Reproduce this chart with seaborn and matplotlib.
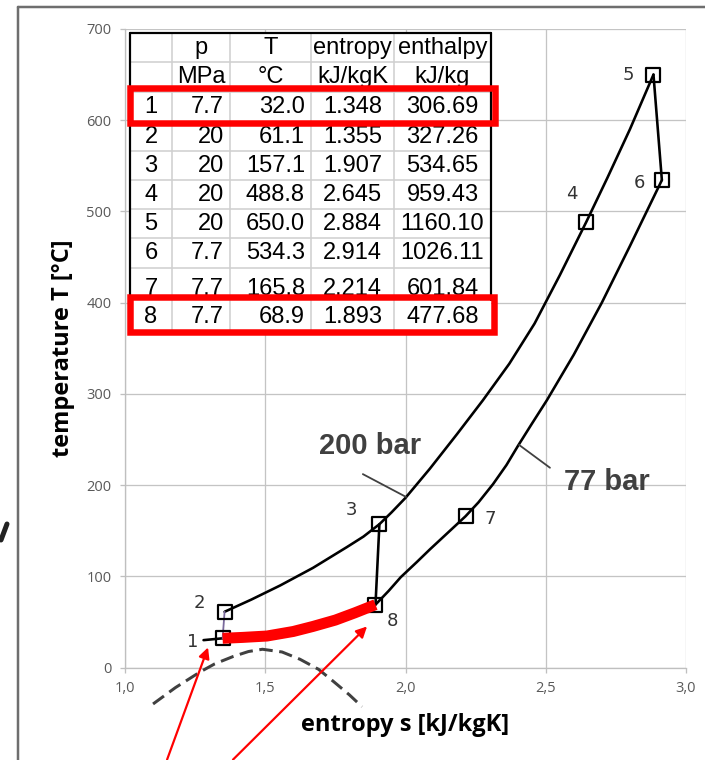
import matplotlib
matplotlib.use("Agg")
import matplotlib.pyplot as plt
import matplotlib.transforms as mtransforms
from matplotlib.patches import Rectangle
from matplotlib.lines import Line2D
from matplotlib.ticker import FuncFormatter, MultipleLocator
import pandas as pd
import seaborn as sns

# ---- cycle state points ----
state_no = [1, 2, 3, 4, 5, 6, 7, 8]
p_mpa = ["7.7", "20", "20", "20", "20", "7.7", "7.7", "7.7"]
t_c = [32.0, 61.1, 157.1, 488.8, 650.0, 534.3, 165.8, 68.9]
s_kj = [1.348, 1.355, 1.907, 2.645, 2.884, 2.914, 2.214, 1.893]
h_kj = [306.69, 327.26, 534.65, 959.43, 1160.10, 1026.11, 601.84, 477.68]

# ---- 200 bar isobar (2 -> 3 -> 4 -> 5) ----
hp_s = [1.355, 1.45, 1.553, 1.670, 1.791, 1.85, 1.907, 1.95, 2.0, 2.087, 2.184,
        2.276, 2.37, 2.46, 2.55, 2.645, 2.72, 2.80, 2.884]
hp_t = [61.1, 74.4, 89.9, 109.2, 132.0, 143.5, 157.1, 170, 186, 218, 256,
        293, 333, 377, 430, 488.8, 537, 590, 650.0]

# ---- 77 bar isobar (8 -> 7 -> 6) ----
lp_s = [1.893, 1.94, 1.983, 2.04, 2.087, 2.15, 2.214, 2.26, 2.312, 2.36, 2.401,
        2.45, 2.504, 2.6, 2.7, 2.8, 2.914]
lp_t = [68.9, 84, 99, 115.5, 129.5, 147.5, 165.8, 181, 201, 222, 243,
        267, 293, 343, 400, 462, 534.3]

# ---- heat rejection 1 -> 8 (highlighted) ----
hx_s = [1.348, 1.42, 1.506, 1.6, 1.670, 1.75, 1.82, 1.893]
hx_t = [32.0, 33.0, 34.5, 39.5, 45.0, 52.0, 60.0, 68.9]

# ---- saturation dome ----
dome_s = [1.10, 1.18, 1.267, 1.32, 1.385, 1.44, 1.49, 1.56, 1.624, 1.69, 1.742, 1.80, 1.845]
dome_t = [-40, -22, -5, 4, 12, 17.5, 20, 17, 9, -2, -15, -30, -43]

# straight connections
turb_s = [2.884, 2.914]
turb_t = [650.0, 534.3]
valve_s = [1.907, 1.893]
valve_t = [157.1, 68.9]
pump_s = [1.348, 1.355]
pump_t = [32.0, 61.1]
stub_s = [1.28, 1.348]
stub_t = [30.0, 32.0]

x_ticks = [1.0, 1.5, 2.0, 2.5, 3.0]
y_ticks = [0, 100, 200, 300, 400, 500, 600, 700]

W, H = 705, 760
fig = plt.figure(figsize=(W / 100, H / 100), dpi=100)
ax = fig.add_axes([125 / W, 1 - 667.5 / H, (686 - 125) / W, (667.5 - 29) / H])
sns.set_style("white")
plt.rcParams["font.family"] = ["DejaVu Sans"]

# pixel transform measured from the top-left of the canvas
pxt = mtransforms.Affine2D().scale(1 / W, -1 / H).translate(0, 1) + fig.transFigure
PT = 72 / 100  # points per pixel


def curve(xs, ys, **kw):
    df = pd.DataFrame({"s": xs, "T": ys})
    sns.lineplot(data=df, x="s", y="T", sort=False, estimator=None, ax=ax, **kw)
    line = ax.lines[-1]
    line.set_solid_joinstyle("round")
    return line


# dome (dashed, extends below the axis)
dome = curve(dome_s, dome_t, color="#404040", linewidth=3 * PT, zorder=3)
dome.set_dashes((4.5, 2.2))
dome.set_clip_on(False)

curve(hp_s, hp_t, color="black", linewidth=2.6 * PT, zorder=4)
curve(lp_s, lp_t, color="black", linewidth=2.6 * PT, zorder=4)
curve(turb_s, turb_t, color="black", linewidth=2.6 * PT, zorder=4)
curve(valve_s, valve_t, color="black", linewidth=2.6 * PT, zorder=4)
curve(stub_s, stub_t, color="black", linewidth=2.6 * PT, zorder=4)
curve(pump_s, pump_t, color="#7a6a9c", linewidth=1.8 * PT, zorder=4)

pts = pd.DataFrame({"s": s_kj, "T": t_c, "n": state_no})
sns.scatterplot(data=pts, x="s", y="T", marker="s", s=(14 * PT) ** 2,
                facecolor="none", edgecolor="black", linewidth=2.2 * PT,
                ax=ax, zorder=5)

hx = curve(hx_s, hx_t, color="#ff0000", linewidth=11 * PT, zorder=6)
hx.set_solid_capstyle("butt")

# state labels
label_off = {1: (-30, -4), 2: (-25, 9), 3: (-28, 14), 4: (-15, 28),
             5: (-25, 0), 6: (-22, -3), 7: (25, -3), 8: (17, -16)}
for n, s, t in zip(state_no, s_kj, t_c):
    dx, dy = label_off[n]
    ax.annotate(str(n), (s, t), xytext=(dx * PT, dy * PT), textcoords="offset points",
                ha="center", va="center", fontsize=13, color="#333333", zorder=7)

# isobar labels with leader lines
ax.text(1.873, 243, "200 bar", fontsize=21, fontweight="bold",
        family="Liberation Sans", color="#404040", ha="center", va="center", zorder=7)
ax.plot([1.848, 2.002], [212, 187], color="#404040", lw=1.8 * PT, zorder=7)
ax.text(2.718, 203, "77 bar", fontsize=21, fontweight="bold",
        family="Liberation Sans", color="#404040", ha="center", va="center", zorder=7)
ax.plot([2.405, 2.515], [244, 219], color="#404040", lw=1.8 * PT, zorder=7)

# red pointer arrows
for tail, tip in [((1.15, -101), (1.296, 22)), ((1.385, -101), (1.863, 45))]:
    ax.annotate("", xy=tip, xytext=tail, annotation_clip=False,
                arrowprops=dict(arrowstyle="-|>", color="#ff0000", lw=2.2 * PT,
                                mutation_scale=16, shrinkA=0, shrinkB=0), zorder=8)

# axes styling
ax.set_xlim(1.0, 3.0)
ax.set_ylim(0, 700)
ax.xaxis.set_major_locator(MultipleLocator(0.5))
ax.yaxis.set_major_locator(MultipleLocator(100))
ax.xaxis.set_major_formatter(FuncFormatter(lambda v, _: f"{v:.1f}".replace(".", ",")))
ax.yaxis.set_major_formatter(FuncFormatter(lambda v, _: f"{v:.0f}"))
ax.grid(True, color="#c4c4c4", linewidth=1.3 * PT)
ax.set_axisbelow(True)
for side in ["top", "right"]:
    ax.spines[side].set_visible(False)
for side in ["left", "bottom"]:
    ax.spines[side].set_color("#bfbfbf")
    ax.spines[side].set_linewidth(1.3 * PT)
ax.tick_params(axis="both", direction="out", length=5 * PT, width=1.3 * PT,
               color="#bfbfbf", labelcolor="#595959", labelsize=10.5, pad=6)
for lab in ax.get_xticklabels() + ax.get_yticklabels():
    lab.set_family("Open Sans")
ax.set_xlabel("")
ax.set_ylabel("")

ax.text(405, 725, "entropy s [kJ/kgK]", transform=pxt, ha="center", va="center",
        fontsize=17, fontweight="bold", family="Open Sans", color="black", clip_on=False)
ax.text(63, 348, "temperature T [°C]", transform=pxt, ha="center", va="center",
        rotation=90, fontsize=17, fontweight="bold", family="Open Sans",
        color="black", clip_on=False)

# ---- data table ----
col_lines = [172, 230, 311, 394]
row_lines = [62, 92, 122, 151, 180, 209, 238, 268, 298, 333]
row_y = [48, 77, 107, 137, 166, 195, 224, 253, 289, 317]
tl, tt, tr, tb = 130, 33, 491, 333

ax.add_patch(Rectangle((tl, tt), tr - tl, tb - tt, transform=pxt, facecolor="white",
                       edgecolor="none", zorder=20, clip_on=False))
for x in col_lines:
    ax.add_line(Line2D([x, x], [tt, tb], transform=pxt, color="#d0d0d0",
                       lw=1.6 * PT, zorder=21, clip_on=False))
for y in row_lines:
    ax.add_line(Line2D([tl, tr], [y, y], transform=pxt, color="#d0d0d0",
                       lw=1.6 * PT, zorder=21, clip_on=False))
for xs_, ys_ in [([tl, tr], [tt, tt]), ([tl, tl], [tt, 300]), ([tr, tr], [tt, 300])]:
    ax.add_line(Line2D(xs_, ys_, transform=pxt, color="black", lw=2.2 * PT,
                       zorder=22, clip_on=False))

tfont = dict(transform=pxt, fontsize=17, family="Liberation Sans", color="black",
             va="center", zorder=23, clip_on=False)
head1 = ["p", "T", "entropy", "enthalpy"]
head2 = ["MPa", "°C", "kJ/kgK", "kJ/kg"]
col_c = [201, 270.5, 352.5, 442.5]
for c, a, b in zip(col_c, head1, head2):
    ax.text(c, row_y[0], a, ha="center", **tfont)
    ax.text(c, row_y[1], b, ha="center", **tfont)
for i in range(len(state_no)):
    y = row_y[i + 2]
    ax.text(151, y, str(state_no[i]), ha="center", **tfont)
    ax.text(224, y, p_mpa[i], ha="right", **tfont)
    ax.text(305, y, f"{t_c[i]:.1f}", ha="right", **tfont)
    ax.text(352.5, y, f"{s_kj[i]:.3f}", ha="center", **tfont)
    ax.text(442.5, y, f"{h_kj[i]:.2f}", ha="center", **tfont)

for (x0, y0, x1, y1) in [(130, 88, 495, 123), (130, 297, 494, 331.5)]:
    ax.add_patch(Rectangle((x0, y0), x1 - x0, y1 - y0, transform=pxt, facecolor="none",
                           edgecolor="#ff0000", lw=6.5 * PT, zorder=24, clip_on=False))

# page frame and margin mark
fig.add_artist(Line2D([18, W], [7, 7], transform=pxt, color="#6e6e6e", lw=2.5 * PT))
fig.add_artist(Line2D([18, 18], [7, H], transform=pxt, color="#6e6e6e", lw=2.5 * PT))
fig.add_artist(Line2D([1, 7], [540, 524], transform=pxt, color="#222222", lw=5 * PT,
                      solid_capstyle="round"))

fig.savefig("out.png", dpi=100)
